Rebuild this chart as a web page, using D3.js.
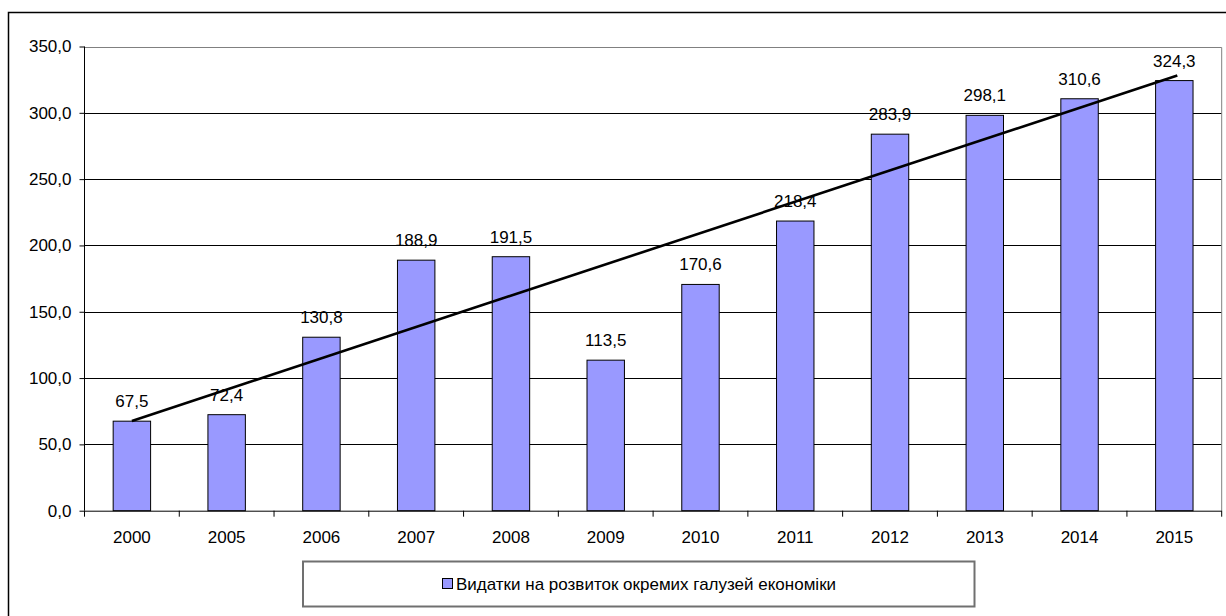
<!DOCTYPE html>
<html><head><meta charset="utf-8">
<script src="https://cdn.jsdelivr.net/npm/d3@7"></script>
<style>
html,body{margin:0;padding:0;background:#fff;}
svg{display:block;font-family:"Liberation Sans",Arial,sans-serif;}
</style></head>
<body>
<svg id="chart" width="1226" height="616"></svg>
<script>
const categories = ["2000","2005","2006","2007","2008","2009","2010","2011","2012","2013","2014","2015"];
const values = [67.5,72.4,130.8,188.9,191.5,113.5,170.6,218.4,283.9,298.1,310.6,324.3];
const yTicks = [0,50,100,150,200,250,300,350];
const seriesName = "Видатки на розвиток окремих галузей економіки";

const svg = d3.select("#chart");
const L = 84.5, R = 1221.7, T = 46.5, B = 510.7;
const FS = "17px";
const fmt = v => d3.format(".1f")(v).replace(".", ",");

// outer border
svg.append("rect").attr("x",8.5).attr("y",12.5).attr("width",1240).attr("height",640)
  .attr("fill","none").attr("stroke","#000").attr("stroke-width",1.5);

const x = d3.scaleBand().domain(categories).range([L,R]).paddingInner(0.605).paddingOuter(0.3025);
const y = d3.scaleLinear().domain([0,350]).range([B,T]);

// gridlines
svg.append("g").selectAll("line").data(yTicks.filter(d=>d>0 && d<350)).join("line")
  .attr("x1",L).attr("x2",R).attr("y1",d=>Math.round(y(d))+0.5).attr("y2",d=>Math.round(y(d))+0.5)
  .attr("stroke","#000").attr("stroke-width",1);

// plot border top & right (gray)
svg.append("path").attr("d",`M${L},${Math.round(T)+0.5}H${R}V${B}`).attr("fill","none").attr("stroke","#808080").attr("stroke-width",1);

// bars
svg.append("g").selectAll("rect").data(values).join("rect")
  .attr("x",(d,i)=>x(categories[i])).attr("width",x.bandwidth())
  .attr("y",d=>y(d)).attr("height",d=>B-y(d))
  .attr("fill","#9999FF").attr("stroke","#000").attr("stroke-width",1);

// y axis
const yAxis = d3.axisLeft(y).tickValues(yTicks).tickSize(5).tickFormat(fmt);
const gy = svg.append("g").attr("transform",`translate(${L},0)`).call(yAxis);
gy.select(".domain").attr("stroke","#000").attr("d",`M0,${T}V${B}`);
gy.selectAll(".tick line").attr("stroke","#000");
gy.selectAll(".tick text").attr("font-size",FS).attr("fill","#000").attr("x",-13)
  .attr("font-family","'Liberation Sans',Arial,sans-serif");

// x axis
const xAxis = d3.axisBottom(x).tickSize(0);
const gx = svg.append("g").attr("transform",`translate(0,${B})`).call(xAxis);
gx.select(".domain").attr("stroke","#000").attr("d",`M${L},0.5H${R}`);
gx.selectAll(".tick text").attr("font-size",FS).attr("fill","#000").attr("dy",0).attr("y",32.5)
  .attr("font-family","'Liberation Sans',Arial,sans-serif");
// category separator ticks
const step = x.step();
svg.append("g").selectAll("line").data(d3.range(categories.length+1)).join("line")
  .attr("x1",i=>L+i*step).attr("x2",i=>L+i*step).attr("y1",B).attr("y2",B+6)
  .attr("stroke","#000");

// linear trend from data
const n = values.length;
const xm = d3.mean(d3.range(n)), ym = d3.mean(values);
const slope = d3.sum(values,(v,i)=>(i-xm)*(v-ym))/d3.sum(d3.range(n),i=>(i-xm)*(i-xm));
const icpt = ym - slope*xm;
const cx = i => x(categories[i]) + x.bandwidth()/2;
svg.append("line")
  .attr("x1",cx(0)).attr("y1",y(icpt))
  .attr("x2",cx(n-1)+3).attr("y2",y(icpt+slope*(n-1+3/step)))
  .attr("stroke","#000").attr("stroke-width",2.6);

// value labels
svg.append("g").selectAll("text").data(values).join("text")
  .attr("x",(d,i)=>cx(i)).attr("y",d=>y(d)-14)
  .attr("text-anchor","middle").attr("font-size",FS).attr("fill","#000")
  .text(d=>fmt(d));

// legend
const lg = svg.append("g");
lg.append("rect").attr("x",303).attr("y",561.5).attr("width",671.5).attr("height",45)
  .attr("fill","#fff").attr("stroke","#707070").attr("stroke-width",2);
lg.append("text").attr("x",456).attr("y",590).attr("font-size",FS).attr("fill","#000").text(seriesName);
lg.append("rect").attr("x",442.5).attr("y",578.5).attr("width",10).attr("height",10)
  .attr("fill","#9999FF").attr("stroke","#000").attr("stroke-width",1);
</script>
</body></html>
